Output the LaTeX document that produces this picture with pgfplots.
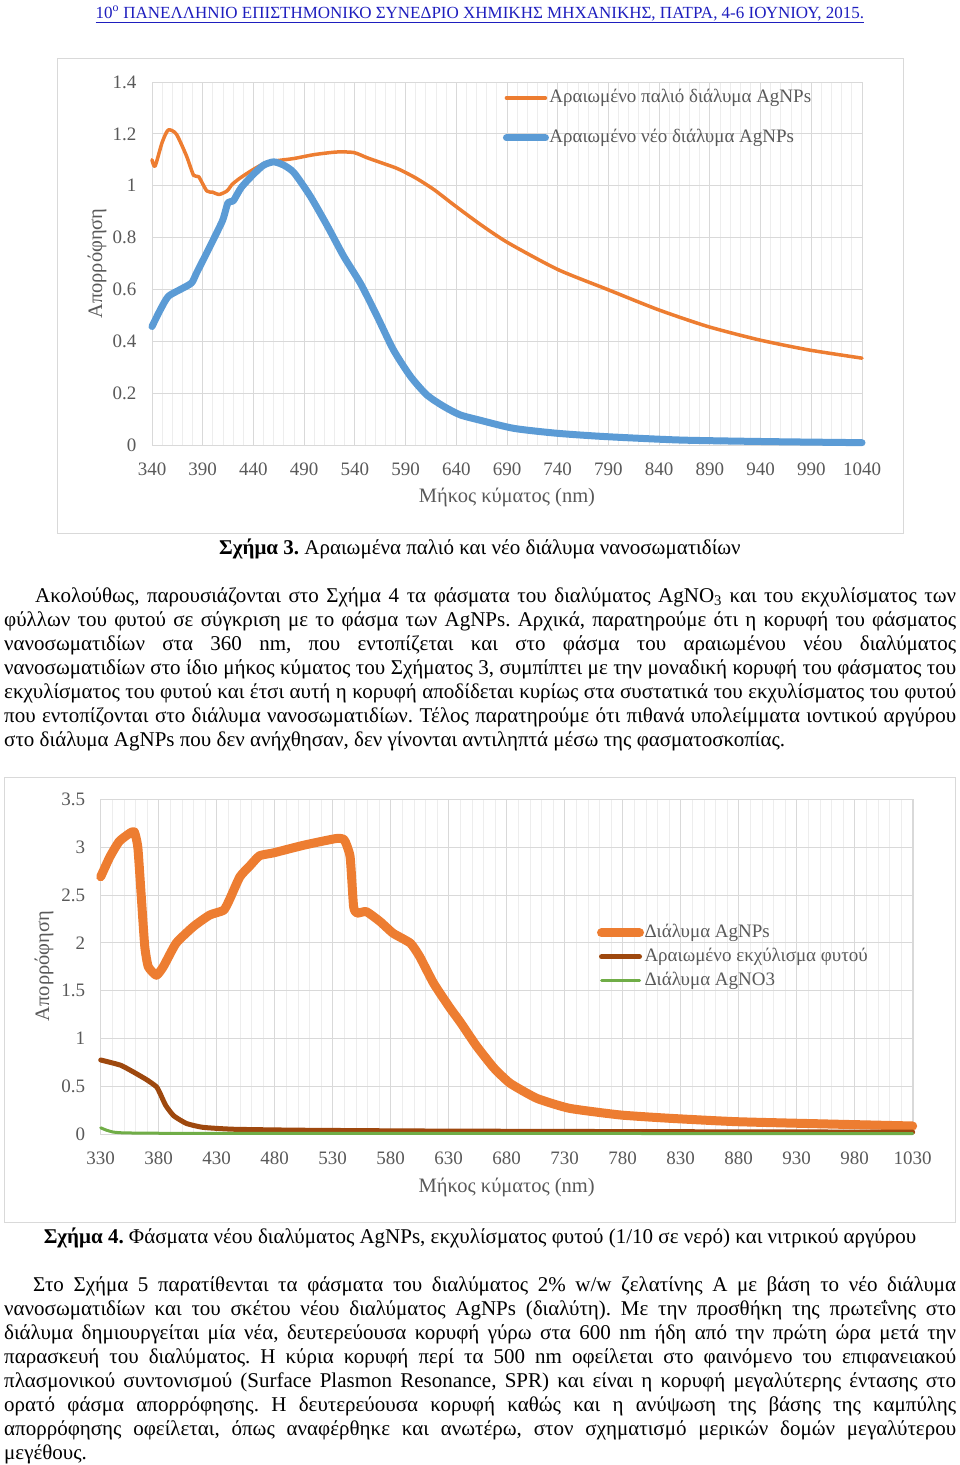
\documentclass[border=0pt]{standalone}
\usepackage{fontspec}
\setmainfont{Liberation Serif}
\usepackage{pgfplots}
\pgfplotsset{compat=1.18}
\definecolor{xorange}{HTML}{ED7D31}
\definecolor{xblue}{HTML}{5B9BD5}
\definecolor{xbrown}{HTML}{9E480E}
\definecolor{xgreen}{HTML}{70AD47}
\definecolor{txtgray}{HTML}{595959}
\definecolor{gridmaj}{HTML}{D9D9D9}
\definecolor{gridmin}{HTML}{EDEDED}
\definecolor{hdrblue}{RGB}{30,30,190}
\newcommand\bodyfont{\fontsize{21}{24}\selectfont}
\newcommand\chartfont{\fontsize{19}{21}\selectfont}
\frenchspacing
\pgfplotsset{excel/.style={scale only axis, clip=false,
  axis line style={gridmaj}, major tick length=0pt, minor tick length=0pt,
  xmajorgrids, xminorgrids, ymajorgrids,
  major grid style={gridmaj, line width=0.8pt},
  minor grid style={gridmin, line width=0.8pt},
  minor x tick num=4,
  tick label style={font=\chartfont, text=txtgray},
  xticklabel style={yshift=-14pt},
  yticklabel style={xshift=-12pt},
  /pgf/number format/assume math mode=true,
  /pgf/number format/set thousands separator={},
  label style={font=\fontsize{20.5}{23}\selectfont, text=txtgray},
  legend cell align=left,
  legend style={draw=none, fill=none, font=\chartfont, text=txtgray, inner sep=0pt,
    nodes={inner ysep=0pt, inner xsep=0.5pt, text height=13pt, text depth=4pt},
    column sep=0pt},
  every axis plot/.append style={line join=round, line cap=round}}}
\begin{document}
\begin{tikzpicture}
\path[use as bounding box] (0pt,0pt) rectangle (960pt,-1465pt);
% header
\node[anchor=base, inner sep=0pt, font=\fontsize{17}{19}\selectfont, text=hdrblue] at (480pt,-18pt)
  {\underline{10\textsuperscript{ο} ΠΑΝΕΛΛΗΝΙΟ ΕΠΙΣΤΗΜΟΝΙΚΟ ΣΥΝΕΔΡΙΟ ΧΗΜΙΚΗΣ ΜΗΧΑΝΙΚΗΣ, ΠΑΤΡΑ, 4-6 ΙΟΥΝΙΟΥ, 2015.}};
% chart 1 frame
\draw[gridmaj, line width=1pt] (57pt,-58pt) rectangle (903pt,-533pt);
\begin{axis}[excel, at={(152pt,-445pt)}, anchor=south west,
  width=710pt, height=363pt,
  xmin=340, xmax=1040, ymin=0, ymax=1.4,
  xtick={340,390,...,1040}, ytick={0,0.2,...,1.4},
  yticklabels={0,0.2,0.4,0.6,0.8,1,1.2,1.4},
  xlabel={Μήκος κύματος (nm)}, ylabel={Απορρόφηση},
  xlabel style={at={(axis description cs:0.5,-0.145)}, anchor=center},
  ylabel style={at={(axis description cs:-0.0775,0.50)}, anchor=center, rotate=0},
  legend style={at={(0.494,0.98)}, anchor=north west, row sep=23pt},
  legend image code/.code={\draw[#1] (2pt,0pt) -- (41pt,0pt);}]
\addplot[xorange, line width=3.5pt, smooth, tension=0.4] coordinates {
(340,1.10) (343,1.075) (350,1.167) (356,1.215) (364,1.199) (374,1.115) (381,1.04) (386,1.035) (394,0.98) (400,0.975) (406,0.966) (414,0.98) (419,1.005) (427,1.03) (440,1.063) (453,1.09) (466,1.098) (480,1.105) (500,1.12) (522,1.13) (539,1.128) (552,1.108) (565,1.09) (582,1.066) (600,1.03) (618,0.985) (638,0.925) (664,0.85) (691,0.78) (740,0.677) (789,0.60) (839,0.522) (888,0.457) (938,0.406) (987,0.367) (1040,0.335)};
\addlegendentry{Αραιωμένο παλιό διάλυμα AgNPs}
\addplot[xblue, line width=7pt, smooth, tension=0.4] coordinates {
(340,0.457) (348,0.52) (356,0.573) (368,0.60) (379,0.625) (384,0.664) (394,0.741) (404,0.82) (410,0.87) (415,0.935) (420,0.941) (428,0.993) (440,1.044) (450,1.079) (460,1.092) (470,1.079) (480,1.05) (496,0.96) (513,0.844) (529,0.728) (546,0.62) (562,0.496) (578,0.367) (595,0.264) (611,0.193) (628,0.148) (644,0.116) (664,0.095) (697,0.064) (740,0.045) (789,0.032) (862,0.019) (950,0.013) (1040,0.009)};
\addlegendentry{Αραιωμένο νέο διάλυμα AgNPs}
\end{axis}
% caption 3
\node[anchor=base, inner sep=0pt, font=\bodyfont] at (480pt,-554pt) {\textbf{Σχήμα 3.} Αραιωμένα παλιό και νέο διάλυμα νανοσωματιδίων};
% paragraph 1
\begin{scope}[every node/.style={anchor=base west, inner sep=0pt, font=\bodyfont}]
\node at (35pt,-602pt) {\makebox[921pt][s]{Ακολούθως, παρουσιάζονται στο Σχήμα 4 τα φάσματα του διαλύματος AgNO\textsubscript{3} και του εκχυλίσματος των}};
\node at (4pt,-626pt) {\makebox[952pt][s]{φύλλων του φυτού σε σύγκριση με το φάσμα των AgNPs. Αρχικά, παρατηρούμε ότι η κορυφή του φάσματος}};
\node at (4pt,-650pt) {\makebox[952pt][s]{νανοσωματιδίων στα 360 nm, που εντοπίζεται και στο φάσμα του αραιωμένου νέου διαλύματος}};
\node at (4pt,-674pt) {\makebox[952pt][s]{νανοσωματιδίων στο ίδιο μήκος κύματος του Σχήματος 3, συμπίπτει με την μοναδική κορυφή του φάσματος του}};
\node at (4pt,-698pt) {\makebox[952pt][s]{εκχυλίσματος του φυτού και έτσι αυτή η κορυφή αποδίδεται κυρίως στα συστατικά του εκχυλίσματος του φυτού}};
\node at (4pt,-722pt) {\makebox[952pt][s]{που εντοπίζονται στο διάλυμα νανοσωματιδίων. Τέλος παρατηρούμε ότι πιθανά υπολείμματα ιοντικού αργύρου}};
\node at (4pt,-746pt) {στο διάλυμα AgNPs που δεν ανήχθησαν, δεν γίνονται αντιληπτά μέσω της φασματοσκοπίας.};
\end{scope}
% chart 2 frame
\draw[gridmaj, line width=1pt] (4pt,-777pt) rectangle (955pt,-1222pt);
\begin{axis}[excel, at={(100.7pt,-1134pt)}, anchor=south west,
  width=812pt, height=334.7pt,
  xmin=330, xmax=1030, ymin=0, ymax=3.5,
  xtick={330,380,...,1030}, ytick={0,0.5,...,3.5},
  yticklabels={0,0.5,1,1.5,2,2.5,3,3.5},
  xlabel={Μήκος κύματος (nm)}, ylabel={Απορρόφηση},
  xlabel style={at={(axis description cs:0.5,-0.16)}, anchor=center},
  ylabel style={at={(axis description cs:-0.0698,0.502)}, anchor=center, rotate=0},
  legend style={at={(0.611,0.627)}, anchor=north west, row sep=7pt},
  legend image code/.code={\draw[#1] (4pt,0pt) -- (42pt,0pt);}]
\addplot[xorange, line width=9pt, smooth, tension=0.3] coordinates {
(330,2.69) (338,2.9) (346,3.06) (355,3.145) (359,3.16) (362,3.0) (365,2.48) (368,1.96) (371,1.75) (378,1.66) (384,1.75) (395,1.995) (410,2.17) (424,2.29) (436,2.34) (441,2.45) (450,2.69) (459,2.81) (467,2.91) (479,2.94) (505,3.02) (533,3.09) (540,3.075) (545,2.90) (548,2.38) (551,2.31) (559,2.325) (571,2.22) (582,2.10) (597,1.995) (605,1.855) (617,1.576) (631,1.32) (640,1.17) (654,0.92) (669,0.69) (683,0.53) (706,0.373) (734,0.269) (778,0.199) (821,0.164) (878,0.129) (956,0.105) (1030,0.084)};
\addlegendentry{Διάλυμα AgNPs}
\addplot[xbrown, line width=5pt, smooth, tension=0.3] coordinates {
(330,0.774) (347,0.72) (358,0.65) (370,0.565) (378,0.495) (381,0.43) (386,0.30) (393,0.19) (404,0.11) (418,0.07) (444,0.05) (500,0.04) (600,0.032) (700,0.028) (800,0.025) (900,0.022) (1030,0.02)};
\addlegendentry{Αραιωμένο εκχύλισμα φυτού}
\addplot[xgreen, line width=3pt, smooth, tension=0.3] coordinates {
(330,0.065) (335,0.04) (341,0.02) (350,0.012) (380,0.008) (500,0.006) (1030,0.005)};
\addlegendentry{Διάλυμα AgNO3}
\end{axis}
% caption 4
\node[anchor=base, inner sep=0pt, font=\bodyfont] at (480pt,-1243pt) {\textbf{Σχήμα 4.} Φάσματα νέου διαλύματος AgNPs, εκχυλίσματος φυτού (1/10 σε νερό) και νιτρικού αργύρου};
% paragraph 2
\begin{scope}[every node/.style={anchor=base west, inner sep=0pt, font=\bodyfont}]
\node at (33pt,-1291pt) {\makebox[923pt][s]{Στο Σχήμα 5 παρατίθενται τα φάσματα του διαλύματος 2\% w/w ζελατίνης Α με βάση το νέο διάλυμα}};
\node at (4pt,-1315pt) {\makebox[952pt][s]{νανοσωματιδίων και του σκέτου νέου διαλύματος AgNPs (διαλύτη). Με την προσθήκη της πρωτεΐνης στο}};
\node at (4pt,-1339pt) {\makebox[952pt][s]{διάλυμα δημιουργείται μία νέα, δευτερεύουσα κορυφή γύρω στα 600 nm ήδη από την πρώτη ώρα μετά την}};
\node at (4pt,-1363pt) {\makebox[952pt][s]{παρασκευή του διαλύματος. Η κύρια κορυφή περί τα 500 nm οφείλεται στο φαινόμενο του επιφανειακού}};
\node at (4pt,-1387pt) {\makebox[952pt][s]{πλασμονικού συντονισμού (Surface Plasmon Resonance, SPR) και είναι η κορυφή μεγαλύτερης έντασης στο}};
\node at (4pt,-1411pt) {\makebox[952pt][s]{ορατό φάσμα απορρόφησης. Η δευτερεύουσα κορυφή καθώς και η ανύψωση της βάσης της καμπύλης}};
\node at (4pt,-1435pt) {\makebox[952pt][s]{απορρόφησης οφείλεται, όπως αναφέρθηκε και ανωτέρω, στον σχηματισμό μερικών δομών μεγαλύτερου}};
\node at (4pt,-1459pt) {μεγέθους.};
\end{scope}
\end{tikzpicture}
\end{document}
